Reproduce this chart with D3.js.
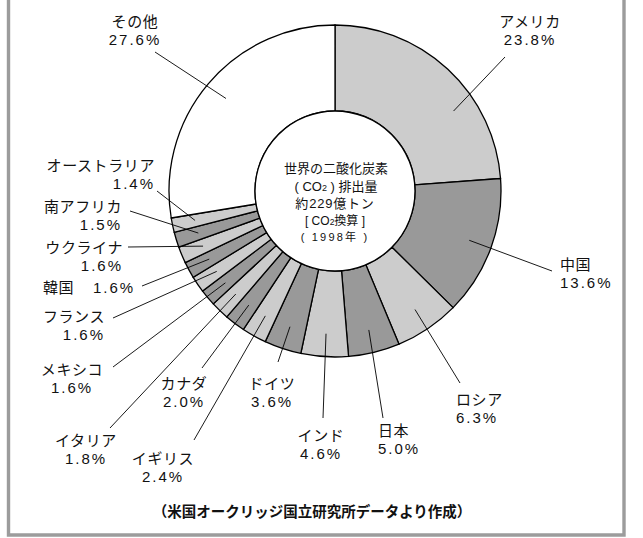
<!DOCTYPE html>
<html>
<head>
<meta charset="utf-8">
<script src="https://cdn.jsdelivr.net/npm/d3@7"></script>
<style>
  html, body { margin: 0; padding: 0; background: #fff; }
  svg { display: block; }
  text { font-family: "Liberation Sans", Arial, "Noto Sans CJK JP", sans-serif; fill: #111; }
</style>
</head>
<body>
<svg id="chart" width="643" height="538"></svg>
<script>
// CO2 emission shares by country (1998), percent of world total
const countries = ["アメリカ", "中国", "ロシア", "日本", "インド", "ドイツ", "イギリス", "カナダ",
  "イタリア", "メキシコ", "フランス", "韓国", "ウクライナ", "南アフリカ", "オーストラリア", "その他"];
const shares = [23.8, 13.6, 6.3, 5.0, 4.6, 3.6, 2.4, 2.0, 1.8, 1.6, 1.6, 1.6, 1.6, 1.5, 1.4, 27.6];

// label placement: first baseline (x, y), anchor, leader start (lx, ly), optional leader angle (deg)
const labelLayout = [
  { x: 530, y: 27, anchor: "middle", lx: 505, ly: 57, deg: 56 },
  { x: 560, y: 270, anchor: "start", lx: 552, ly: 271 },
  { x: 456, y: 405, anchor: "start", lx: 460, ly: 383 },
  { x: 378, y: 436, anchor: "start", lx: 383, ly: 418 },
  { x: 321, y: 441, anchor: "middle", lx: 323, ly: 418 },
  { x: 272, y: 389, anchor: "middle", lx: 278, ly: 362 },
  { x: 163, y: 464, anchor: "middle", lx: 194, ly: 440 },
  { x: 184, y: 389, anchor: "middle", lx: 202, ly: 368 },
  { x: 86, y: 446, anchor: "middle", lx: 110, ly: 428 },
  { x: 72, y: 375, anchor: "middle", lx: 113, ly: 367 },
  { x: 105, y: 322, anchor: "end", lx: 113, ly: 318 },
  { x: 43, y: 293, anchor: "start", lx: 142, ly: 286, inline: 50 },
  { x: 123, y: 253, anchor: "end", lx: 128, ly: 247 },
  { x: 122, y: 212, anchor: "end", lx: 130, ly: 211 },
  { x: 155, y: 171, anchor: "end", lx: 157, ly: 191 },
  { x: 135, y: 27, anchor: "middle", lx: 155, ly: 52 }
];

const centerLines = ["世界の二酸化炭素", "排出量", "約229億トン", "換算", "1998年"];
const sourceNote = "（米国オークリッジ国立研究所データより作成）";

const svg = d3.select("#chart");
const cx = 335, cy = 191, R = 166, R0 = 80, RL = 143;
const lineGap = 17.5;

const light = "#cccccc", dark = "#999999";
const fillFor = i => i === countries.length - 1 ? "#ffffff" : (i % 2 === 0 ? light : dark);

// frame (open at the top)
svg.append("path")
  .attr("d", "M8.5,0 V535 H624 V0")
  .attr("fill", "none")
  .attr("stroke", "#9c9c9c")
  .attr("stroke-width", 3.4);

const pie = d3.pie().sort(null).value(d => d).startAngle(0).endAngle(2 * Math.PI);
const arcs = pie(shares);
const arc = d3.arc().innerRadius(R0).outerRadius(R);

const g = svg.append("g").attr("transform", `translate(${cx},${cy})`);

g.selectAll("path.slice")
  .data(arcs)
  .join("path")
  .attr("class", "slice")
  .attr("d", arc)
  .attr("fill", (d, i) => fillFor(i))
  .attr("stroke", "#000")
  .attr("stroke-width", 1.3)
  .attr("stroke-linejoin", "miter");

// inner disc holding the title
g.append("circle")
  .attr("r", R0)
  .attr("fill", "#fff")
  .attr("stroke", "#000")
  .attr("stroke-width", 1.3);

// leader lines
const leaderEnd = (d, i) => {
  const a = labelLayout[i].deg != null ? labelLayout[i].deg * Math.PI / 180 : (d.startAngle + d.endAngle) / 2;
  return [cx + RL * Math.sin(a), cy - RL * Math.cos(a)];
};
svg.append("g").selectAll("line")
  .data(arcs)
  .join("line")
  .attr("x1", (d, i) => labelLayout[i].lx)
  .attr("y1", (d, i) => labelLayout[i].ly)
  .attr("x2", (d, i) => leaderEnd(d, i)[0])
  .attr("y2", (d, i) => leaderEnd(d, i)[1])
  .attr("stroke", "#000")
  .attr("stroke-width", 0.9);

// country labels
const labels = svg.append("g").attr("font-size", 15);
countries.forEach((name, i) => {
  const L = labelLayout[i];
  const pct = shares[i].toFixed(1) + "%";
  labels.append("text")
    .attr("x", L.x).attr("y", L.y)
    .attr("text-anchor", L.anchor)
    .attr("letter-spacing", 0.6)
    .text(name);
  labels.append("text")
    .attr("x", L.inline ? L.x + L.inline : L.x)
    .attr("y", L.inline ? L.y : L.y + lineGap)
    .attr("text-anchor", L.anchor)
    .attr("letter-spacing", 2)
    .text(pct);
});

// title in the centre
const ct = svg.append("g").attr("text-anchor", "middle");
ct.append("text").attr("x", cx + 1).attr("y", 173).attr("font-size", 13).text(centerLines[0]);
const t2 = ct.append("text").attr("x", cx + 1).attr("y", 191).attr("font-size", 13);
t2.append("tspan").text("( CO");
t2.append("tspan").attr("font-size", 9).text("2");
t2.append("tspan").text(" ) " + centerLines[1]);
ct.append("text").attr("x", cx).attr("y", 208).attr("font-size", 13).attr("letter-spacing", 0.8).text(centerLines[2]);
const t4 = ct.append("text").attr("x", cx).attr("y", 225).attr("font-size", 12);
t4.append("tspan").text("[ CO");
t4.append("tspan").attr("font-size", 8.5).text("2");
t4.append("tspan").text(centerLines[3] + " ]");
ct.append("text").attr("x", cx).attr("y", 241).attr("font-size", 11).attr("letter-spacing", 2.2)
  .text("( " + centerLines[4] + " )");

// source note
svg.append("text")
  .attr("x", 312).attr("y", 517)
  .attr("text-anchor", "middle")
  .attr("font-size", 14.5)
  .attr("font-weight", "bold")
  .text(sourceNote);
</script>
</body>
</html>
